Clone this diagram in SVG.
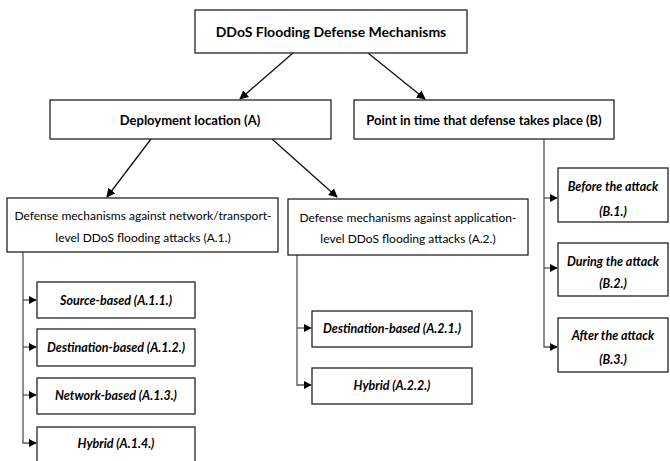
<svg xmlns="http://www.w3.org/2000/svg" width="670" height="461" viewBox="0 0 670 461">
<defs>
<marker id="ah" viewBox="0 0 10 10" refX="9" refY="5" markerWidth="9" markerHeight="9" markerUnits="userSpaceOnUse" orient="auto">
<path d="M0,0 L10,5 L0,10 z" fill="#000"/>
</marker>
<marker id="ahs" viewBox="0 0 10 10" refX="9" refY="5" markerWidth="8" markerHeight="8" markerUnits="userSpaceOnUse" orient="auto">
<path d="M0,0 L10,5 L0,10 z" fill="#000"/>
</marker>
</defs>
<style>
rect{fill:#fff;stroke:#222;stroke-width:1.3}
text{font-family:Lato,"Open Sans","Liberation Sans",sans-serif;fill:#000;text-anchor:middle}
.t{font-weight:bold;font-size:14px}
.b{font-weight:bold;font-size:13px}
.r{font-size:12px}
.i{font-style:italic;font-weight:bold;font-size:12.5px}
.c line,.c path{stroke:#111;stroke-width:1.3;fill:none}
.c .g{stroke:#555}
</style>
<rect width="670" height="461" style="fill:#fff;stroke:none"/>
<g class="c" id="connectors">
<line x1="293" y1="53" x2="240" y2="99" marker-end="url(#ah)"/>
<line x1="368" y1="53" x2="425" y2="99" marker-end="url(#ah)"/>
<line x1="151" y1="139" x2="107" y2="197" marker-end="url(#ah)"/>
<line x1="272" y1="139" x2="337" y2="197" marker-end="url(#ah)"/>
<path class="g" d="M23,252 V443 H36" marker-end="url(#ahs)"/>
<line class="g" x1="23" y1="300" x2="36" y2="300" marker-end="url(#ahs)"/>
<line class="g" x1="23" y1="347" x2="36" y2="347" marker-end="url(#ahs)"/>
<line class="g" x1="23" y1="395" x2="36" y2="395" marker-end="url(#ahs)"/>
<path class="g" d="M297,255 V385 H311" marker-end="url(#ahs)"/>
<line class="g" x1="297" y1="328" x2="311" y2="328" marker-end="url(#ahs)"/>
<path class="g" d="M544,139 V347 H557" marker-end="url(#ahs)"/>
<line class="g" x1="544" y1="198" x2="557" y2="198" marker-end="url(#ahs)"/>
<line class="g" x1="544" y1="268" x2="557" y2="268" marker-end="url(#ahs)"/>
</g>
<g id="root"><rect x="195" y="10" width="272" height="43"/><text class="t" x="331" y="37">DDoS Flooding Defense Mechanisms</text></g>
<g id="A"><rect x="50" y="100" width="281" height="39"/><text class="b" x="190" y="125">Deployment location (A)</text></g>
<g id="B"><rect x="354" y="100" width="260" height="39"/><text class="b" x="484" y="125">Point in time that defense takes place (B)</text></g>
<g id="A1"><rect x="7" y="198" width="271" height="54"/><text class="r" x="143" y="220">Defense mechanisms against network/transport-</text><text class="r" x="143" y="242">level DDoS flooding attacks (A.1.)</text></g>
<g id="A2"><rect x="288" y="199" width="240" height="56"/><text class="r" x="408" y="222">Defense mechanisms against application-</text><text class="r" x="408" y="243">level DDoS flooding attacks (A.2.)</text></g>
<g id="A11"><rect x="37" y="282" width="158" height="36"/><text class="i" x="116" y="305">Source-based (A.1.1.)</text></g>
<g id="A12"><rect x="37" y="329" width="158" height="37"/><text class="i" x="116" y="352">Destination-based (A.1.2.)</text></g>
<g id="A13"><rect x="37" y="378" width="158" height="36"/><text class="i" x="116" y="400">Network-based (A.1.3.)</text></g>
<g id="A14"><rect x="37" y="427" width="158" height="40"/><text class="i" x="116" y="448">Hybrid (A.1.4.)</text></g>
<g id="A21"><rect x="312" y="311" width="160" height="36"/><text class="i" x="392" y="333">Destination-based (A.2.1.)</text></g>
<g id="A22"><rect x="312" y="368" width="160" height="36"/><text class="i" x="392" y="390">Hybrid (A.2.2.)</text></g>
<g id="B1"><rect x="558" y="168" width="110" height="54"/><text class="i" x="613" y="191">Before the attack</text><text class="i" x="613" y="216">(B.1.)</text></g>
<g id="B2"><rect x="558" y="243" width="110" height="53"/><text class="i" x="613" y="266">During the attack</text><text class="i" x="613" y="288">(B.2.)</text></g>
<g id="B3"><rect x="558" y="318" width="110" height="54"/><text class="i" x="613" y="340">After the attack</text><text class="i" x="613" y="364">(B.3.)</text></g>
</svg>
